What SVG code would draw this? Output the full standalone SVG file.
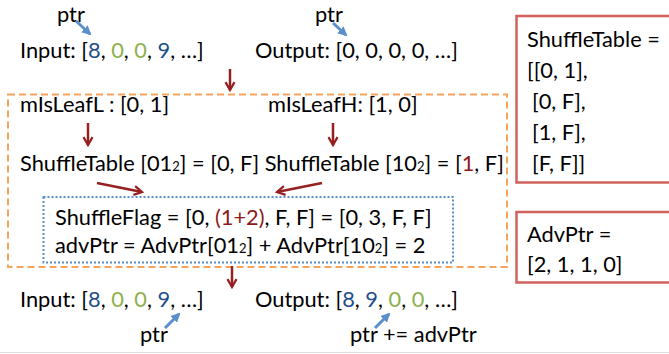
<svg xmlns="http://www.w3.org/2000/svg" width="669" height="354" viewBox="0 0 669 354">
<defs>
<marker id="ar" viewBox="0 0 10 10" refX="8" refY="5" markerWidth="4.5" markerHeight="4.5" orient="auto"><path d="M1,1 L8,5 L1,9" fill="none" stroke="#962020" stroke-width="2"/></marker>
<marker id="ab" viewBox="0 0 10 10" refX="8" refY="5" markerWidth="3.2" markerHeight="3.2" orient="auto"><path d="M0,0 L10,5 L0,10 Z" fill="#5b8fcb"/></marker>
<style>
text{font-family:Lato,"Open Sans","Liberation Sans",sans-serif;font-size:21.8px;fill:#000}
.b{fill:#1f4e8c}.g{fill:#8db04d}.r{fill:#8b1a1a}
.s{font-size:13px}
.ra{stroke:#962020;stroke-width:2.5;fill:none;marker-end:url(#ar)}
.ba{stroke:#5b8fcb;stroke-width:3;fill:none;marker-end:url(#ab)}
</style>
</defs>
<rect width="669" height="354" fill="#fff"/>
<g id="outer-box"><rect x="8" y="94.5" width="499" height="172.5" fill="none" stroke="#f6a45c" stroke-width="2" stroke-dasharray="7,4"/></g>
<g id="inner-box"><rect x="43.5" y="197" width="409.5" height="65.5" fill="none" stroke="#5b8fcb" stroke-width="2" stroke-dasharray="2,2"/></g>
<g id="shuffletable-box">
<rect x="516.5" y="16" width="160" height="166.5" fill="none" stroke="#d0625e" stroke-width="2.5"/>
<text x="527" y="47">ShuffleTable =</text>
<text x="527" y="78">[[0, 1],</text>
<text x="532" y="109">[0, F],</text>
<text x="532" y="140">[1, F],</text>
<text x="532" y="171">[F, F]]</text>
</g>
<g id="advptr-box">
<rect x="516.5" y="212" width="160" height="70.5" fill="none" stroke="#d0625e" stroke-width="2.5"/>
<text x="527" y="242">AdvPtr =</text>
<text x="527" y="272">[2, 1, 1, 0]</text>
</g>
<g id="top-input">
<text x="57" y="22">ptr</text>
<text x="20" y="58">Input: [<tspan class="b">8</tspan>, <tspan class="g">0</tspan>, <tspan class="g">0</tspan>, <tspan class="b">9</tspan>, …]</text>
</g>
<g id="top-output">
<text x="315" y="22">ptr</text>
<text x="255" y="58">Output: [0, 0, 0, 0, …]</text>
</g>
<g id="leafL"><text x="20" y="112">mIsLeafL : [0, 1]</text></g>
<g id="leafH"><text x="268" y="112">mIsLeafH: [1, 0]</text></g>
<g id="shuffle-lookup"><text x="20" y="171">ShuffleTable [01<tspan class="s">2</tspan>] = [0, F] ShuffleTable [10<tspan class="s">2</tspan>] = [<tspan class="r">1</tspan>, F]</text></g>
<g id="shuffleflag">
<text x="55" y="225">ShuffleFlag = [0, <tspan class="r">(1+2)</tspan>, F, F] = [0, 3, F, F]</text>
<text x="55" y="253">advPtr = AdvPtr[01<tspan class="s">2</tspan>] + AdvPtr[10<tspan class="s">2</tspan>] = 2</text>
</g>
<g id="bottom-input">
<text x="20" y="307">Input: [<tspan class="b">8</tspan>, <tspan class="g">0</tspan>, <tspan class="g">0</tspan>, <tspan class="b">9</tspan>, …]</text>
<text x="140" y="342">ptr</text>
</g>
<g id="bottom-output">
<text x="255" y="307">Output: [<tspan class="b">8</tspan>, <tspan class="b">9</tspan>, <tspan class="g">0</tspan>, <tspan class="g">0</tspan>, …]</text>
<text x="350" y="342">ptr += advPtr</text>
</g>
<g id="connectors">
<line class="ba" x1="76" y1="21" x2="90" y2="34"/>
<line class="ba" x1="333" y1="23" x2="346" y2="35"/>
<line class="ra" x1="230" y1="69" x2="230" y2="90"/>
<line class="ra" x1="88" y1="123" x2="88" y2="145"/>
<line class="ra" x1="333" y1="123" x2="333" y2="145"/>
<line class="ra" x1="97" y1="183" x2="142" y2="192"/>
<line class="ra" x1="322" y1="183" x2="277" y2="192"/>
<line class="ra" x1="232" y1="266" x2="232" y2="287"/>
<line class="ba" x1="165" y1="328" x2="179" y2="314"/>
<line class="ba" x1="375" y1="328" x2="389" y2="314"/>
</g>
<line x1="0" y1="352.5" x2="669" y2="352.5" stroke="#dddddd" stroke-width="1"/>
</svg>
